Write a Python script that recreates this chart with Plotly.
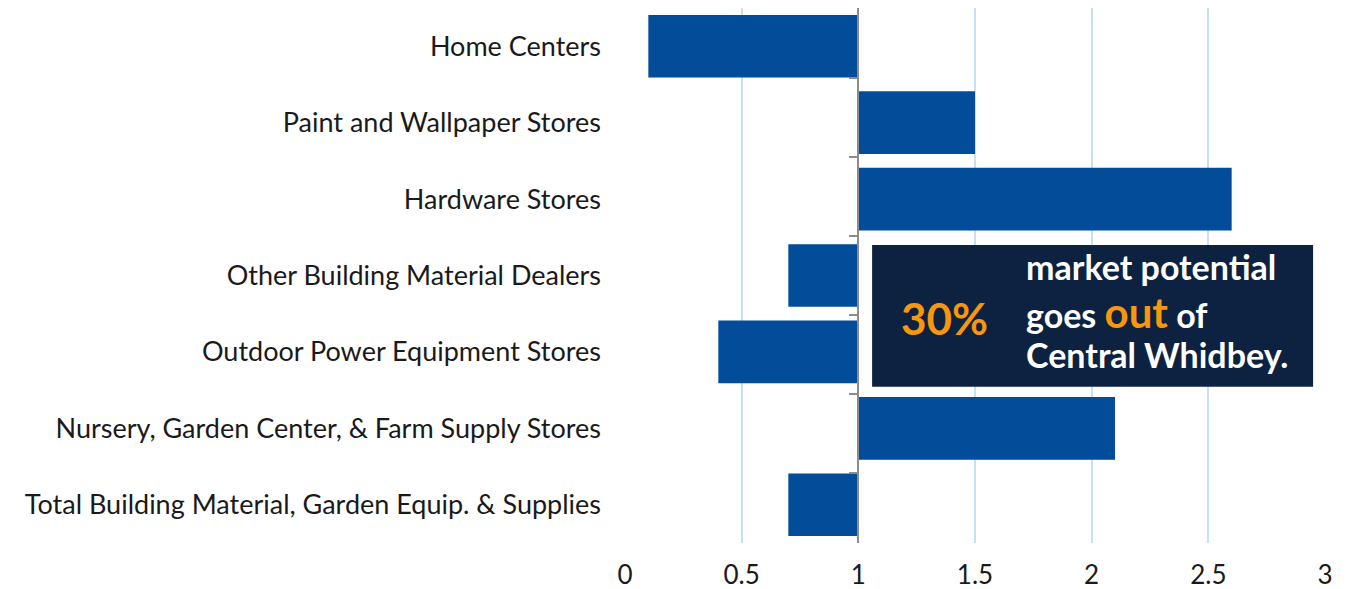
import plotly.graph_objects as go

# Leakage / surplus factor by store type (1 = balanced)
categories = [
    "Home Centers",
    "Paint and Wallpaper Stores",
    "Hardware Stores",
    "Other Building Material Dealers",
    "Outdoor Power Equipment Stores",
    "Nursery, Garden Center, & Farm Supply Stores",
    "Total Building Material, Garden Equip. & Supplies",
]
values = [0.1, 1.5, 2.6, 0.7, 0.4, 2.1, 0.7]
x_ticks = [0, 0.5, 1, 1.5, 2, 2.5, 3]
x_tick_labels = ["0", "0.5", "1", "1.5", "2", "2.5", "3"]
baseline = 1

font_family = "Lato, 'DejaVu Sans', sans-serif"

fig = go.Figure()

# bars grow from the baseline at 1
fig.add_trace(go.Bar(
    y=categories,
    x=[v - baseline for v in values],
    base=baseline,
    orientation="h",
    marker=dict(color="#034c99", line=dict(width=0)),
    showlegend=False,
))

# invisible trace so the second y axis (drawn at x = 1) renders
fig.add_trace(go.Scatter(
    y=categories, x=[baseline] * len(categories),
    yaxis="y2", mode="markers", marker=dict(opacity=0),
    showlegend=False, hoverinfo="skip",
))

fig.update_layout(
    width=1348, height=589,
    margin=dict(l=617, r=31, t=0, b=54, autoexpand=False),
    paper_bgcolor="white", plot_bgcolor="white",
    font=dict(family=font_family, size=20, color="#1a1a1a"),
    bargap=0.18,
    xaxis=dict(
        range=[0, 3], tickvals=x_ticks, ticktext=x_tick_labels,
        showgrid=True, gridcolor="#c6e2f0", gridwidth=1.5,
        zeroline=False, showline=False, ticks="",
        ticklabelstandoff=14,
        tickfont=dict(size=26), domain=[0, 1], automargin=False,
    ),
    yaxis=dict(
        categoryorder="array", categoryarray=categories[::-1],
        showgrid=False, zeroline=False, showline=False, ticks="",
        ticklabelstandoff=23, tickfont=dict(size=27), automargin=False,
    ),
    yaxis2=dict(
        overlaying="y", anchor="free", position=1 / 3, side="left",
        categoryorder="array", categoryarray=categories[::-1],
        showline=True, linecolor="#8c8c8c", linewidth=2,
        ticks="outside", tickson="boundaries", ticklen=8,
        tickcolor="#8c8c8c", tickwidth=2,
        showticklabels=False, showgrid=False, zeroline=False,
        automargin=False,
    ),
)

# callout box
fig.add_shape(type="rect", xref="paper", yref="paper",
              x0=0.353, x1=0.983, y0=0.292, y1=0.557,
              fillcolor="#0d2240", line=dict(width=0), layer="above")

fig.add_annotation(
    xref="paper", yref="paper", x=0.457, y=0.421,
    text="<b>30%</b>", showarrow=False,
    font=dict(family=font_family, size=44, color="#f7960f"),
)

callout_lines = [
    "<b>market potential</b>",
    "<b>goes <span style='color:#f7960f;font-size:42px'>out</span> of</b>",
    "<b>Central Whidbey.</b>",
]
callout_y = [0.516, 0.432, 0.352]
for line, yy in zip(callout_lines, callout_y):
    fig.add_annotation(
        xref="paper", yref="paper", x=0.57, y=yy,
        xanchor="left", yanchor="middle", align="left",
        text=line, showarrow=False,
        font=dict(family=font_family, size=34, color="white"),
    )

fig.write_html("out.html")
